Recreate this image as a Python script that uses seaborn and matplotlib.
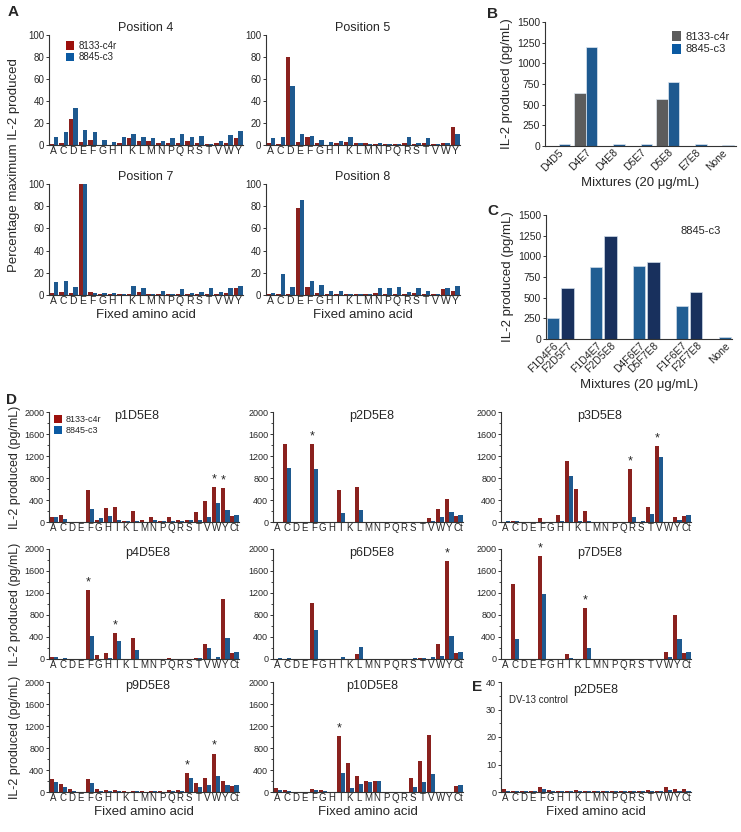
import numpy as np
import pandas as pd
import matplotlib
matplotlib.use("Agg")
import matplotlib.pyplot as plt
import seaborn as sns
from matplotlib.ticker import MultipleLocator
from matplotlib.patches import Patch

sns.set_theme(style="ticks")
plt.rcParams["font.family"] = ["Liberation Sans", "DejaVu Sans"]

W, H = 741, 832

RED = "#9c100c"
BLUE = "#0b5aa2"
GREY = "#5c5c5c"
LIGHT_BLUE = "#0e5fa6"
NAVY = "#0c2c69"

CLONES = ["8133-c4r", "8845-c3"]
AA20 = list("ACDEFGHIKLMNPQRSTVWY")
AA21 = AA20 + ["Ct"]

# ---- Panel A: percentage of maximum IL-2 (red = 8133-c4r, blue = 8845-c3)
pos4_red = [1, 2, 24, 3, 5, 0, 0, 2, 6, 4, 4, 2, 2, 2, 4, 2, 0.5, 2, 2, 6]
pos4_blue = [7, 12, 34, 14, 12, 5, 3, 7, 10, 7, 6, 4, 6, 10, 7, 8, 0.5, 4, 9, 13]
pos5_red = [2, 1, 80, 3, 7, 2, 0, 2, 3, 1.5, 1.5, 0.5, 0.5, 0.5, 2, 0.5, 2, 0.5, 2, 16]
pos5_blue = [6, 7, 54, 10, 8, 5, 3, 4, 7, 1.5, 0.5, 1.5, 0.5, 1, 7, 2, 6, 0.5, 2, 10]
pos7_red = [2, 3, 2, 100, 3, 1, 1, 1, 1, 3, 1, 1, 0.5, 0.5, 1, 1, 1, 1, 2, 6]
pos7_blue = [12, 13, 7, 100, 2, 2, 2, 0.5, 8, 6, 0.5, 4, 0.5, 5, 2, 3, 6, 3, 6, 8]
pos8_red = [1, 0.5, 1, 78, 7, 2, 0.5, 0.5, 0.5, 0.5, 0.5, 2, 1, 1, 0.5, 2, 1, 0.5, 5, 4]
pos8_blue = [2, 19, 7, 86, 13, 9, 4, 4, 0.5, 0.5, 0.5, 6, 6, 7, 3, 6, 4, 1, 6, 8]

# ---- Panel B: mixtures, IL-2 pg/mL
b_mixtures = ["D4D5", "D4E7", "D4E8", "D5E7", "D5E8", "E7E8", "None"]
b_c4r = [0, 640, 0, 0, 570, 0, 0]
b_c3 = [25, 1200, 30, 30, 775, 20, 15]

# ---- Panel C: 8845-c3 with four-residue mixtures
c_mixtures = ["F1D4F6", "F2D5F7", "F1D4E7", "F2D5E8", "D4F6E7", "D5F7E8",
              "F1F6E7", "F2F7E8", "None"]
c_values = [250, 615, 870, 1240, 885, 930, 400, 570, 20]
c_group = [0, 0, 1, 1, 2, 2, 3, 3, 4]
c_shade = ["first", "second", "first", "second", "first", "second",
           "first", "second", "first"]

# ---- Panel D/E: IL-2 pg/mL per fixed amino acid
d_names = ["p1D5E8", "p2D5E8", "p3D5E8", "p4D5E8", "p6D5E8", "p7D5E8",
           "p9D5E8", "p10D5E8"]
p1_red = [100, 120, 0, 0, 580, 40, 250, 270, 25, 200, 40, 90, 10, 95, 30, 40, 185, 380, 630, 610, 110]
p1_blue = [90, 60, 0, 0, 230, 70, 105, 40, 25, 10, 5, 35, 25, 25, 15, 40, 35, 95, 345, 210, 120]
p2_red = [0, 1410, 0, 0, 1410, 0, 0, 580, 0, 630, 0, 0, 0, 0, 0, 0, 0, 70, 240, 410, 110]
p2_blue = [0, 980, 0, 0, 960, 0, 0, 170, 0, 220, 0, 0, 0, 0, 0, 0, 0, 20, 100, 190, 120]
p3_red = [5, 10, 0, 0, 80, 0, 130, 1110, 600, 195, 0, 0, 0, 0, 960, 0, 270, 1380, 0, 100, 110]
p3_blue = [10, 10, 0, 0, 5, 5, 10, 840, 20, 10, 0, 0, 0, 0, 85, 10, 140, 1190, 0, 40, 120]
p4_red = [40, 0, 0, 0, 1260, 75, 105, 465, 0, 390, 5, 5, 0, 10, 5, 5, 15, 270, 0, 1100, 110]
p4_blue = [45, 15, 0, 0, 420, 0, 10, 330, 0, 160, 0, 0, 0, 0, 0, 5, 15, 195, 35, 385, 120]
p6_red = [0, 0, 0, 0, 1020, 0, 0, 0, 0, 100, 0, 0, 0, 0, 0, 5, 15, 0, 280, 1780, 110]
p6_blue = [15, 15, 0, 0, 525, 0, 0, 45, 0, 210, 0, 0, 0, 0, 0, 15, 25, 40, 50, 420, 120]
p7_red = [0, 1360, 0, 0, 1870, 0, 0, 95, 0, 920, 0, 0, 0, 0, 0, 0, 0, 0, 130, 800, 110]
p7_blue = [0, 370, 0, 0, 1180, 0, 0, 20, 0, 195, 0, 0, 0, 0, 0, 0, 0, 0, 45, 365, 120]
p9_red = [230, 140, 50, 0, 230, 50, 30, 40, 10, 20, 10, 20, 10, 30, 30, 350, 170, 250, 700, 200, 110]
p9_blue = [180, 100, 20, 0, 160, 20, 20, 20, 5, 10, 5, 10, 5, 10, 10, 250, 90, 120, 300, 130, 120]
p10_red = [80, 30, 0, 0, 50, 30, 0, 1010, 530, 300, 200, 200, 0, 0, 0, 260, 570, 1030, 0, 0, 110]
p10_blue = [40, 20, 0, 0, 40, 10, 0, 340, 80, 150, 180, 200, 0, 0, 0, 100, 180, 320, 0, 0, 120]
e_red = [1.2, 0.5, 0.3, 0.2, 2.0, 0.8, 0.5, 0.3, 0.6, 0.3, 0.3, 0.3, 0.3, 0.5, 0.3, 0.5, 0.6, 0.5, 1.8, 1.2, 1.0]
e_blue = [0.3, 0.2, 0.2, 0.2, 1.0, 0.3, 0.2, 0.5, 0.3, 0.2, 0.2, 0.2, 0.2, 0.3, 0.5, 0.2, 0.4, 0.3, 0.6, 0.5, 0.4]

# significant responses marked with an asterisk (red series)
d_stars = {
    "p1D5E8": ["W", "Y"],
    "p2D5E8": ["F"],
    "p3D5E8": ["R", "V"],
    "p4D5E8": ["F", "I"],
    "p6D5E8": ["Y"],
    "p7D5E8": ["F", "L"],
    "p9D5E8": ["S", "W"],
    "p10D5E8": ["I"],
}


def px_axes(fig, x0, y0, x1, y1):
    return fig.add_axes([x0 / W, 1 - y1 / H, (x1 - x0) / W, (y1 - y0) / H])


def style_axes(ax, ymax, major, minor=None, size=7, xsize=7):
    ax.set_ylim(0, ymax)
    ax.yaxis.set_major_locator(MultipleLocator(major))
    if minor:
        ax.yaxis.set_minor_locator(MultipleLocator(minor))
    sns.despine(ax=ax)
    for s in ("left", "bottom"):
        ax.spines[s].set_linewidth(0.8)
        ax.spines[s].set_color("#333333")
    ax.tick_params(axis="y", labelsize=size, length=2.5, width=0.7, pad=1, color="#333333")
    ax.tick_params(axis="y", which="minor", length=1.5, width=0.6)
    ax.tick_params(axis="x", labelsize=xsize, length=0, pad=1)
    ax.set_xlabel("")
    ax.set_ylabel("")


def pair_bars(ax, cats, red, blue, colors, width=0.9):
    df = pd.DataFrame({
        "aa": cats * 2,
        "clone": [CLONES[0]] * len(cats) + [CLONES[1]] * len(cats),
        "value": list(red) + list(blue),
    })
    sns.barplot(data=df, x="aa", y="value", hue="clone", order=cats,
                hue_order=CLONES, palette=colors, width=width, errorbar=None,
                linewidth=0, ax=ax, legend=False)


def clone_legend(ax, colors, loc, size, anchor=None):
    handles = [Patch(facecolor=c, edgecolor="none") for c in colors]
    ax.legend(handles, CLONES, loc=loc, bbox_to_anchor=anchor, frameon=False,
              fontsize=size, handlelength=0.8, handleheight=1.0,
              handletextpad=0.4, labelspacing=0.15, borderaxespad=0.2)


fig = plt.figure(figsize=(W / 100, H / 100), dpi=100)

# ---------------- Panel A
a_panels = [
    ("Position 4", pos4_red, pos4_blue, (49, 35, 243, 145)),
    ("Position 5", pos5_red, pos5_blue, (266, 35, 460, 145)),
    ("Position 7", pos7_red, pos7_blue, (49, 184, 243, 295)),
    ("Position 8", pos8_red, pos8_blue, (266, 184, 460, 295)),
]
for i, (title, red, blue, box) in enumerate(a_panels):
    ax = px_axes(fig, *box)
    pair_bars(ax, AA20, red, blue, [RED, BLUE])
    style_axes(ax, 100, 20, xsize=7.5)
    ax.set_title(title, fontsize=9, pad=3)
    if i == 0:
        clone_legend(ax, [RED, BLUE], "upper left", 7, (0.06, 1.0))
    if i >= 2:
        ax.set_xlabel("Fixed amino acid", fontsize=9.5, labelpad=2)
fig.text(14 / W, 1 - 165 / H, "Percentage maximum IL-2 produced", rotation=90,
         ha="center", va="center", fontsize=9.5)

# ---------------- Panel B
ax = px_axes(fig, 545, 22, 736, 146)
pair_bars(ax, b_mixtures, b_c4r, b_c3, [GREY, BLUE], width=0.84)
style_axes(ax, 1500, 250, size=7.5)
ax.set_xticks(range(len(b_mixtures)))
ax.set_xticklabels(b_mixtures, rotation=45, ha="right", rotation_mode="anchor", fontsize=7.5)
ax.set_xlabel("Mixtures (20 μg/mL)", fontsize=9.5, labelpad=3)
ax.set_ylabel("IL-2 produced (pg/mL)", fontsize=9.5, labelpad=3)
clone_legend(ax, [GREY, BLUE], "upper right", 8, (1.0, 0.98))
for p in ax.patches:
    p.set_edgecolor("#dfe8f2")
    p.set_linewidth(0.5)

# ---------------- Panel C
ax = px_axes(fig, 546, 215, 732, 339)
c_order = []
for g in sorted(set(c_group)):
    if g > 0:
        c_order.append(" " * g)
    c_order += [m for m, k in zip(c_mixtures, c_group) if k == g]
c_df = pd.DataFrame({"mix": c_mixtures, "value": c_values, "shade": c_shade})
sns.barplot(data=c_df, x="mix", y="value", hue="shade", order=c_order,
            hue_order=["first", "second"], palette=[LIGHT_BLUE, NAVY],
            dodge=False, width=0.87, errorbar=None, edgecolor="#cfdbe8",
            linewidth=0.5, ax=ax, legend=False)
style_axes(ax, 1500, 250, size=7.5)
ax.set_xticks(range(len(c_order)))
ax.set_xticklabels(c_order, rotation=45, ha="right", rotation_mode="anchor", fontsize=7.5)
ax.set_xlabel("Mixtures (20 μg/mL)", fontsize=9.5, labelpad=3)
ax.set_ylabel("IL-2 produced (pg/mL)", fontsize=9.5, labelpad=3)
ax.text(0.83, 0.87, "8845-c3", transform=ax.transAxes, ha="center", va="center", fontsize=8)

# ---------------- Panel D
d_data = {
    "p1D5E8": (p1_red, p1_blue), "p2D5E8": (p2_red, p2_blue),
    "p3D5E8": (p3_red, p3_blue), "p4D5E8": (p4_red, p4_blue),
    "p6D5E8": (p6_red, p6_blue), "p7D5E8": (p7_red, p7_blue),
    "p9D5E8": (p9_red, p9_blue), "p10D5E8": (p10_red, p10_blue),
}
col_x = [(49, 239), (273, 463), (501, 691)]
row_y = [(412, 522), (549, 659), (682, 792)]
width = 0.9
for i, name in enumerate(d_names):
    r, c = divmod(i, 3)
    ax = px_axes(fig, col_x[c][0], row_y[r][0], col_x[c][1], row_y[r][1])
    red, blue = d_data[name]
    pair_bars(ax, AA21, red, blue, [RED, BLUE], width=width)
    style_axes(ax, 2000, 400, 200, size=6.5, xsize=7)
    ax.set_yticks([0, 400, 800, 1200, 1600, 2000])
    tx = 0.46 if i == 0 else 0.52
    ax.text(tx, 0.96, name, transform=ax.transAxes, ha="center", va="center", fontsize=9)
    for aa in d_stars[name]:
        k = AA21.index(aa)
        ax.text(k - width / 4, red[k] + 30, "*", ha="center", va="bottom", fontsize=9)
    if c == 0:
        ax.set_ylabel("IL-2 produced (pg/mL)", fontsize=9, labelpad=2)
    if r == 2:
        ax.set_xlabel("Fixed amino acid", fontsize=9.5, labelpad=2)
    if i == 0:
        clone_legend(ax, [RED, BLUE], "upper left", 6.5, (0.0, 1.02))

# ---------------- Panel E
ax = px_axes(fig, 501, 682, 691, 792)
pair_bars(ax, AA21, e_red, e_blue, [RED, BLUE], width=width)
style_axes(ax, 40, 10, 5, size=6.5, xsize=7)
ax.text(0.5, 0.93, "p2D5E8", transform=ax.transAxes, ha="center", va="center", fontsize=9)
ax.text(0.04, 0.84, "DV-13 control", transform=ax.transAxes, ha="left", va="center", fontsize=7)
ax.set_xlabel("Fixed amino acid", fontsize=9.5, labelpad=2)

# ---------------- Panel letters
for letter, x, y in [("A", 8, 12), ("B", 487, 14), ("C", 487, 211),
                     ("D", 6, 400), ("E", 472, 687)]:
    fig.text(x / W, 1 - y / H, letter, fontsize=11, fontweight="bold",
             ha="left", va="center")

fig.savefig("out.png", dpi=100)
